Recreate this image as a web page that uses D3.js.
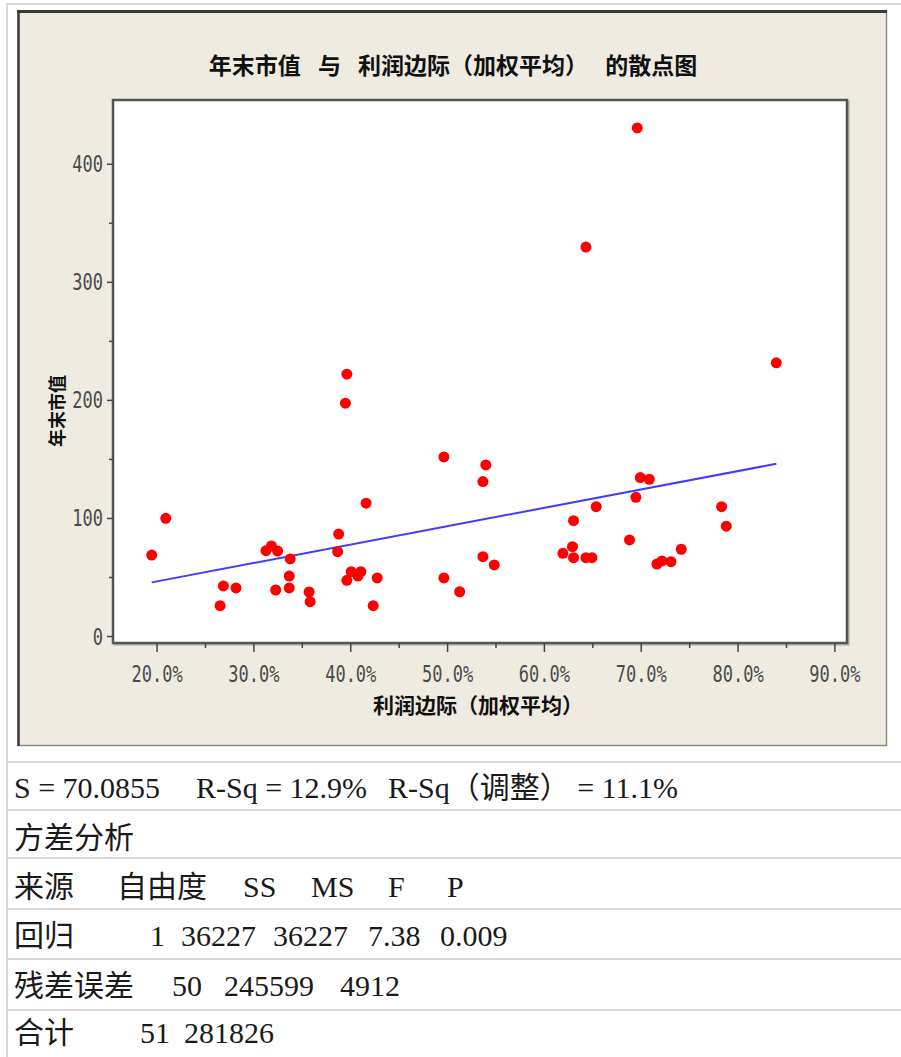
<!DOCTYPE html>
<html><head><meta charset="utf-8">
<script src="https://cdn.jsdelivr.net/npm/d3@7"></script>
<style>
html,body{margin:0;padding:0;background:#fff;}
svg{display:block;}
</style></head><body>
<svg id="c" width="901" height="1057"></svg>
<script>
// ---- data ----
const marginPct = [19.5,20.95,26.56,26.9,28.2,31.3,31.86,32.5,32.3,33.8,33.7,33.7,35.75,35.86,38.8,38.7,39.65,39.5,39.65,40.1,41.1,40.8,41.64,42.37,42.78,49.67,49.67,51.3,54.0,53.7,53.7,54.87,69.64,64.34,84.0,69.95,70.88,69.5,65.4,78.35,78.83,63.06,68.84,62.95,61.96,63.06,64.34,64.96,74.18,71.67,72.19,73.12];
const marketValue = [68.6,99.7,25.7,42.4,40.7,72.3,76.3,72.0,39.0,65.3,50.8,40.7,37.3,29.1,86.4,71.4,221.8,197.2,47.2,54.5,54.5,50.8,112.5,25.7,49.2,151.7,49.2,37.5,144.9,130.8,67.2,60.2,430.3,329.4,231.4,134.2,132.8,117.5,109.6,109.6,93.0,97.7,81.4,75.7,70.1,66.4,66.4,66.4,73.5,61.0,63.6,63.0];
const fitIntercept = 15.1;
const fitSlope = 1.557;
const xTicks = [20,30,40,50,60,70,80,90];
const xMinorTicks = [25,35,45,55,65,75,85];
const yTicks = [0,100,200,300,400];
const yMinorTicks = [50,150,250,350];
const chartTitle = "年末市值 与 利润边际（加权平均） 的散点图";
const xTitle = "利润边际（加权平均）";
const yTitle = "年末市值";
const statsLine = ["S = 70.0855", "R-Sq = 12.9%", "R-Sq（调整） = 11.1%"];
const anovaTitle = ["方差分析"];
const anovaHeader = ["来源","自由度","SS","MS","F","P"];
const anovaReg = ["回归","1","36227","36227","7.38","0.009"];
const anovaErr = ["残差误差","50","245599","4912"];
const anovaTotal = ["合计","51","281826"];

// ---- layout ----
const svg = d3.select("#c");
const W = 901, H = 1057;
const plot = {l:113, t:100, r:847, b:643};

// table lines
const tblLines = [4, 762, 810, 858, 909, 959, 1010];
svg.selectAll("line.tbl").data(tblLines).enter().append("line")
  .attr("x1", 6).attr("x2", W).attr("y1", d=>d).attr("y2", d=>d)
  .attr("stroke", "#d6d6d6").attr("stroke-width", 2);
svg.append("line").attr("x1",7).attr("x2",7).attr("y1",4).attr("y2",H)
  .attr("stroke","#d6d6d6").attr("stroke-width",2);

// beige panel
svg.append("rect").attr("x",17).attr("y",10).attr("width",870).attr("height",736)
  .attr("fill","#efebe1");
svg.append("line").attr("x1",886.5).attr("x2",886.5).attr("y1",10).attr("y2",746)
  .attr("stroke","#8a8a8a").attr("stroke-width",1.5);
svg.append("line").attr("x1",17).attr("x2",887).attr("y1",745.5).attr("y2",745.5)
  .attr("stroke","#8a8a8a").attr("stroke-width",1.5);
svg.append("line").attr("x1",17).attr("x2",887).attr("y1",11.5).attr("y2",11.5)
  .attr("stroke","#3a3a3a").attr("stroke-width",3);
svg.append("line").attr("x1",18.5).attr("x2",18.5).attr("y1",10).attr("y2",746)
  .attr("stroke","#3a3a3a").attr("stroke-width",2.5);

// scales
const x = d3.scaleLinear().domain([15.5, 91.3]).range([plot.l, plot.r]);
const y = d3.scaleLinear().domain([-5.9, 454]).range([plot.b, plot.t]);

// plot frame
svg.append("rect").attr("x",plot.l+1.5).attr("y",plot.t+1.5)
  .attr("width",plot.r-plot.l).attr("height",plot.b-plot.t)
  .attr("fill","none").attr("stroke","#b0b0b0").attr("stroke-width",2);
svg.append("rect").attr("x",plot.l).attr("y",plot.t)
  .attr("width",plot.r-plot.l).attr("height",plot.b-plot.t)
  .attr("fill","#fff").attr("stroke","#555").attr("stroke-width",2.5);

// axes
const tickFont = "'DejaVu Sans Mono', monospace";
const gx = svg.append("g").attr("transform",`translate(0,${plot.b})`)
  .call(d3.axisBottom(x).tickValues(xTicks).tickFormat(d=>d.toFixed(1)+"%").tickSize(9).tickSizeOuter(0));
const gxm = svg.append("g").attr("transform",`translate(0,${plot.b})`)
  .call(d3.axisBottom(x).tickValues(xMinorTicks).tickFormat("").tickSize(5).tickSizeOuter(0));
const gy = svg.append("g").attr("transform",`translate(${plot.l},0)`)
  .call(d3.axisLeft(y).tickValues(yTicks).tickSize(6).tickSizeOuter(0));
const gym = svg.append("g").attr("transform",`translate(${plot.l},0)`)
  .call(d3.axisLeft(y).tickValues(yMinorTicks).tickFormat("").tickSize(4).tickSizeOuter(0));
[gx,gxm,gy,gym].forEach(g=>{
  g.select(".domain").remove();
  g.selectAll(".tick line").attr("stroke","#444").attr("stroke-width",1.5);
});
gx.selectAll(".tick text").attr("y",0).attr("dy","0.36em")
  .attr("transform","translate(0,31) scale(1,1.3)")
  .attr("font-family",tickFont).attr("font-size",17).attr("fill","#4a4a4a");
gy.selectAll(".tick text").attr("x",-10).attr("dy","0.36em")
  .attr("transform","scale(1,1.3)")
  .attr("font-family",tickFont).attr("font-size",17).attr("fill","#4a4a4a");

// regression line
const xs = d3.extent(marginPct);
svg.append("line")
  .attr("x1", x(xs[0])).attr("y1", y(fitIntercept + fitSlope*xs[0]))
  .attr("x2", x(xs[1])).attr("y2", y(fitIntercept + fitSlope*xs[1]))
  .attr("stroke","#3d3dff").attr("stroke-width",2);

// points
svg.append("g").selectAll("circle").data(marginPct).enter().append("circle")
  .attr("cx", d=>x(d)).attr("cy", (d,i)=>y(marketValue[i])).attr("r",5.5)
  .attr("fill","#ff0000");

// titles
const cjkBold = "'Noto Sans CJK SC', sans-serif";
svg.append("text").attr("x",453).attr("y",74).attr("text-anchor","middle")
  .attr("font-family",cjkBold).attr("font-weight","bold").attr("font-size",23)
  .style("white-space","pre").style("word-spacing","12px").attr("fill","#111")
  .text(chartTitle);
svg.append("text").attr("x",478).attr("y",713).attr("text-anchor","middle")
  .attr("font-family",cjkBold).attr("font-weight","bold").attr("font-size",21)
  .attr("fill","#111").text(xTitle);
svg.append("text").attr("transform","translate(58,411) rotate(-90)").attr("dy","0.36em")
  .attr("text-anchor","middle")
  .attr("font-family",cjkBold).attr("font-weight","bold").attr("font-size",18)
  .attr("fill","#111").text(yTitle);

// stats table text
const tblFont = "'Liberation Serif', 'Noto Sans CJK SC', serif";
const rows = [
  {items: statsLine, xs:[14,196,388], y:798},
  {items: anovaTitle, xs:[14], y:848},
  {items: anovaHeader, xs:[14,117,243,311,388,447], y:897},
  {items: anovaReg, xs:[14,150,181,273,368,440], y:946},
  {items: anovaErr, xs:[14,172,224,340], y:996},
  {items: anovaTotal, xs:[14,140,184], y:1043}
];
rows.forEach(r=>{
  svg.append("g").selectAll("text").data(r.items).enter().append("text")
    .attr("x",(d,i)=>r.xs[i]).attr("y",r.y)
    .attr("font-family",tblFont).attr("font-size",30).attr("fill","#1a1a1a")
    .style("white-space","pre")
    .text(d=>d);
});
</script>
</body></html>
